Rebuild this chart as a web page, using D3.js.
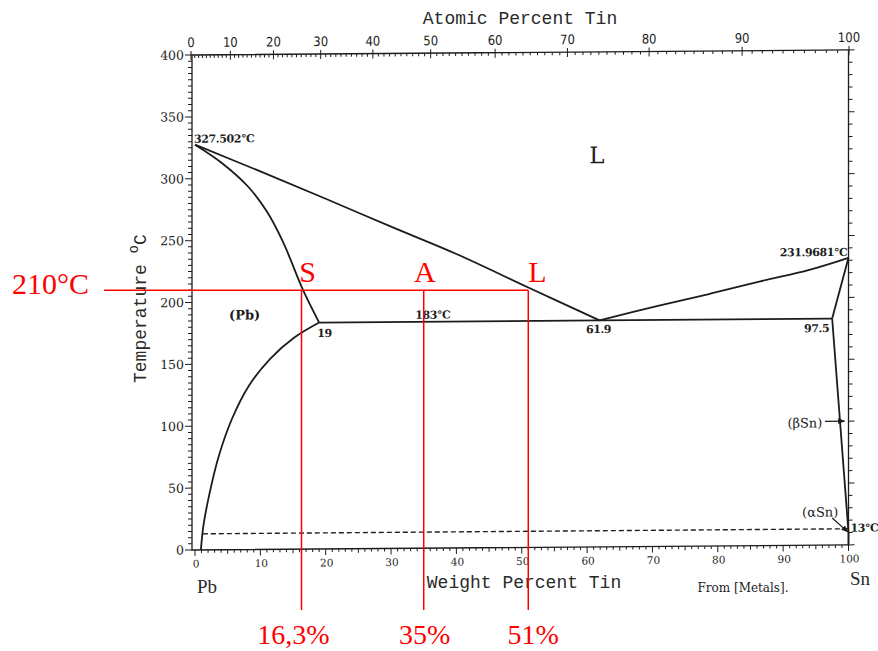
<!DOCTYPE html>
<html><head><meta charset="utf-8">
<script src="https://cdn.jsdelivr.net/npm/d3@7"></script>
<style>body{margin:0;background:#fff}svg{display:block}</style>
</head><body>
<svg id="c" width="878" height="651"></svg>
<script>
// ---------- data ----------
const weightTicks = d3.range(0, 101, 10);
const atomicTicks = d3.range(0, 101, 10);
const tempTicks = d3.range(0, 401, 50);

const liquidusPb = [[0,327.5],[10,305.5],[20,283],[30,260],[40,237.5],[51,210],[61.9,183]];
const liquidusSn = [[61.9,183],[71,194.5],[79,204],[86.5,213.5],[94,222.5],[100,231.97]];
const solidusPb  = [[0,327.5],[4,313],[8,294],[11,273],[13.5,248],[16.4,211],[19,183]];
const solvusPb   = [[0.9,0],[1.3,20],[2.2,45],[3.6,75],[5.6,105],[8.2,132],[11.5,154],[15.2,171],[19,183]];
const eutectic   = [[19,183],[61.9,183],[97.5,183]];
const solidusSn  = [[97.5,183],[100,231.97]];
const solvusSn   = [[97.5,183],[100,10],[100,0]];
const allotropic = [[1.2,13],[100,13]];

const pointLabels = ["327.502°C","231.9681°C","19","183°C","61.9","97.5","13°C"];
const pointW      = [0, 100, 19, 33.7, 61.9, 97.5, 100];
const pointT      = [327.5, 231.97, 183, 183, 183, 183, 13];

const phaseLabels = ["L","(Pb)","(βSn)","(αSn)"];
const phaseW      = [61.5, 7.6, 96.3, 92.9];
const phaseT      = [310, 186, 100, 23];

const betaArrow  = [[96.4,100],[99.4,100]];
const alphaArrow = [[97.5,21.8],[99.9,10.5]];

const redTemp = 210;
const redTempLabel = "210°C";
const redComps = [16.3, 35, 51];
const redCompLabels = ["16,3%","35%","51%"];
const redLetters = ["S","A","L"];

// ---------- scales ----------
const x = d3.scaleLinear([0,100],[195,848.5]);
const xTop = d3.scaleLinear([0,100],[191,849]);
const y = d3.scaleLinear([0,400],[550,55]);
const at2wt = a => 100*a*118.71/(a*118.71 + (100-a)*207.2);

const svg = d3.select("#c");
const ink = "#1c1c1c";
const g = svg.append("g").attr("transform","translate(192,550) skewY(-0.447) translate(-192,-550)");

// frame
g.append("rect").attr("x",192).attr("y",y(400)).attr("width",x(100)-192).attr("height",y(0)-y(400))
 .attr("fill","none").attr("stroke",ink).attr("stroke-width",1.3);

// left ticks
d3.range(0,401,5).forEach(t=>{
  const L = t%50===0?7:4;
  g.append("line").attr("x1",192-L).attr("x2",192).attr("y1",y(t)).attr("y2",y(t)).attr("stroke",ink).attr("stroke-width",1);
});
// right ticks
d3.range(0,401,10).forEach(t=>{
  const L = t%50===0?6:4;
  g.append("line").attr("x1",x(100)).attr("x2",x(100)+L).attr("y1",y(t)).attr("y2",y(t)).attr("stroke",ink).attr("stroke-width",1);
});
// bottom ticks
d3.range(0,101,1).forEach(w=>{
  const L = w%10===0?6:(w%5===0?4:3);
  g.append("line").attr("x1",x(w)).attr("x2",x(w)).attr("y1",y(0)).attr("y2",y(0)+L).attr("stroke",ink).attr("stroke-width",1);
});
// top ticks
d3.range(0,101,1).forEach(a=>{
  const xx = xTop(at2wt(a));
  const maj = a%10===0;
  g.append("line").attr("x1",xx).attr("x2",xx).attr("y1",y(400)-(maj?4:0)).attr("y2",y(400)+(maj?5:3)).attr("stroke",ink).attr("stroke-width",1);
});

// tick labels
g.selectAll(".yl").data(tempTicks).join("text").attr("x",184).attr("y",d=>y(d)).attr("dy","0.36em")
 .attr("text-anchor","end").attr("font-family","DejaVu Serif").attr("font-size",12.5).attr("fill",ink).text(d=>d);
g.selectAll(".xl").data(weightTicks).join("text").attr("x",d=>x(d)+1).attr("y",567.5)
 .attr("text-anchor","middle").attr("font-family","DejaVu Serif").attr("font-size",10.5).attr("fill",ink).text(d=>d);
g.selectAll(".tl").data(atomicTicks).join("text").attr("x",d=>xTop(at2wt(d))).attr("y",47)
 .attr("text-anchor","middle").attr("font-family","DejaVu Sans Condensed, DejaVu Sans").attr("font-stretch","condensed")
 .attr("font-size",13).attr("fill",ink).text(d=>d);

// titles
svg.append("text").attr("x",520).attr("y",24).attr("text-anchor","middle").attr("font-family","Liberation Mono")
 .attr("font-size",18).attr("fill","#2a2a2a").text("Atomic Percent Tin");
svg.append("text").attr("x",524).attr("y",588).attr("text-anchor","middle").attr("font-family","Liberation Mono")
 .attr("font-size",18).attr("fill","#2a2a2a").text("Weight Percent Tin");
const yt = svg.append("text").attr("transform","translate(146,383) rotate(-90)").attr("font-family","Liberation Mono")
 .attr("font-size",18).attr("fill","#2a2a2a");
yt.append("tspan").text("Temperature ");
yt.append("tspan").attr("dy",-8).attr("font-size",14).text("o");
yt.append("tspan").attr("dy",8).text("C");
svg.append("text").attr("x",197).attr("y",593).attr("font-family","Liberation Serif").attr("font-size",19).attr("fill","#2a2a2a").text("Pb");
svg.append("text").attr("x",850).attr("y",585).attr("font-family","Liberation Serif").attr("font-size",19).attr("fill","#2a2a2a").text("Sn");
svg.append("text").attr("x",743).attr("y",592).attr("text-anchor","middle").attr("font-family","DejaVu Serif").attr("font-size",12).attr("fill",ink).text("From [Metals].");

// phase lines
const line = d3.line().x(d=>x(d[0])).y(d=>y(d[1]));
const curve = d3.line().x(d=>x(d[0])).y(d=>y(d[1])).curve(d3.curveCatmullRom.alpha(0.5));
[liquidusPb, liquidusSn, solidusPb, solvusPb].forEach(s=>{
  g.append("path").attr("d",curve(s)).attr("fill","none").attr("stroke",ink).attr("stroke-width",1.8);
});
[eutectic, solidusSn, solvusSn].forEach(s=>{
  g.append("path").attr("d",line(s)).attr("fill","none").attr("stroke",ink).attr("stroke-width",1.8);
});
g.append("path").attr("d",line(allotropic)).attr("fill","none").attr("stroke",ink).attr("stroke-width",1.4).attr("stroke-dasharray","5,3");

// arrows
svg.append("defs").append("marker").attr("id","ah").attr("viewBox","0 0 10 10").attr("refX",9).attr("refY",5)
 .attr("markerWidth",6).attr("markerHeight",6).attr("orient","auto")
 .append("path").attr("d","M0,1 L10,5 L0,9 Z").attr("fill",ink);
g.append("path").attr("d",line(betaArrow)).attr("stroke",ink).attr("stroke-width",1.2).attr("marker-end","url(#ah)");
g.append("path").attr("d",line(alphaArrow)).attr("stroke",ink).attr("stroke-width",1.2).attr("marker-end","url(#ah)");

// point labels
const pOff = {
  "327.502°C":{dx:-1,dy:-2,a:"start"},
  "231.9681°C":{dx:-1,dy:-2,a:"end"},
  "19":{dx:-2,dy:14.5,a:"start"},
  "183°C":{dx:0,dy:-3,a:"start"},
  "61.9":{dx:-1,dy:12.7,a:"middle"},
  "97.5":{dx:-3,dy:13.5,a:"end"},
  "13°C":{dx:2,dy:3,a:"start"}
};
pointLabels.forEach((s,i)=>{
  const o = pOff[s];
  g.append("text").attr("x",x(pointW[i])+o.dx).attr("y",y(pointT[i])+o.dy).attr("text-anchor",o.a)
   .attr("font-family","DejaVu Serif").attr("font-size",11).attr("fill",ink).attr("font-weight","bold")
   .attr("letter-spacing",-0.4).text(s);
});
const phOff = {
  "L":{dx:0,dy:0,a:"middle",f:23,w:"normal"},
  "(Pb)":{dx:0,dy:0,a:"middle",f:13,w:"bold"},
  "(βSn)":{dx:-2,dy:6,a:"end",f:13,w:"normal"},
  "(αSn)":{dx:0,dy:0,a:"start",f:13,w:"normal"}
};
phaseLabels.forEach((s,i)=>{
  const o = phOff[s];
  g.append("text").attr("x",x(phaseW[i])+o.dx).attr("y",y(phaseT[i])+o.dy).attr("text-anchor",o.a)
   .attr("font-family","DejaVu Serif").attr("font-size",o.f).attr("font-weight",o.w).attr("fill",ink).text(s);
});

// ---------- red annotations ----------
const red = "#ff0000";
const r = svg.append("g");
r.append("line").attr("x1",104).attr("x2",x(redComps[2])).attr("y1",y(redTemp)).attr("y2",y(redTemp))
 .attr("stroke",red).attr("stroke-width",1.5);
redComps.forEach(c=>{
  r.append("line").attr("x1",x(c)).attr("x2",x(c)).attr("y1",y(redTemp)).attr("y2",610).attr("stroke",red).attr("stroke-width",1.5);
});
r.append("text").attr("x",12).attr("y",294).attr("font-family","Liberation Serif").attr("font-size",30).attr("fill",red).text(redTempLabel);
const letOff = [{dx:6,a:"middle"},{dx:1,a:"middle"},{dx:0,a:"start"}];
redLetters.forEach((s,i)=>{
  r.append("text").attr("x",x(redComps[i])+letOff[i].dx).attr("y",y(redTemp)-8).attr("text-anchor",letOff[i].a)
   .attr("font-family","Liberation Serif").attr("font-size",30).attr("fill",red).text(s);
});
const pctOff = [-8,1,5];
redCompLabels.forEach((s,i)=>{
  r.append("text").attr("x",x(redComps[i])+pctOff[i]).attr("y",644).attr("text-anchor","middle")
   .attr("font-family","Liberation Serif").attr("font-size",28).attr("fill",red).text(s);
});
</script>
</body></html>
